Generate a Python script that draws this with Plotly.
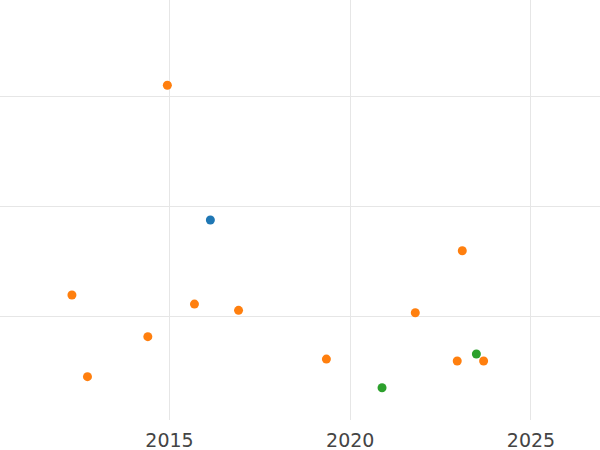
import plotly.graph_objects as go

# Data
orange_x = [2014.94, 2023.10, 2012.30, 2015.69, 2016.91, 2021.80, 2014.40, 2019.34, 2022.96, 2023.69, 2012.73]
orange_y = [30.98, 15.97, 11.95, 11.13, 10.56, 10.34, 8.17, 6.14, 5.96, 5.96, 4.54]
blue_x = [2016.13]
blue_y = [18.76]
green_x = [2020.88, 2023.49]
green_y = [3.54, 6.60]

x_ticks = [2015, 2020, 2025]
x_tick_labels = ["2015", "2020", "2025"]

fig = go.Figure()
for xs, ys, col in [(blue_x, blue_y, "#1f77b4"), (orange_x, orange_y, "#ff7f0e"), (green_x, green_y, "#2ca02c")]:
    fig.add_trace(go.Scatter(x=xs, y=ys, mode="markers",
                             marker=dict(color=col, size=9), showlegend=False))

fig.update_layout(
    width=600, height=450,
    margin=dict(l=0, r=0, t=0, b=30),
    paper_bgcolor="white", plot_bgcolor="white",
    font=dict(family="DejaVu Sans", size=19, color="#444"),
    xaxis=dict(range=[2010.31, 2026.91], tickvals=x_ticks, ticktext=x_tick_labels,
               showgrid=True, gridcolor="#e6e6e6", gridwidth=1, zeroline=False,
               showline=False, ticks="", ticklabelstandoff=7),
    yaxis=dict(range=[0.61, 38.72], tick0=0, dtick=10, showticklabels=False,
               showgrid=True, gridcolor="#e6e6e6", gridwidth=1, zeroline=False,
               showline=False, ticks=""),
)

fig.write_html("out.html", config={"displayModeBar": False},
               post_script="document.body.style.margin='0';document.body.style.overflow='hidden';")
